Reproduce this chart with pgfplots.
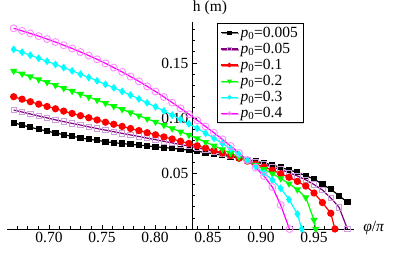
\documentclass[border=0pt]{standalone}
\usepackage{fontspec}
\setmainfont{Liberation Serif}
\usepackage{pgfplots}
\pgfplotsset{compat=1.18}
\usepackage{pgfplotstable}
\usetikzlibrary{shadows}

\pgfplotstableread{
x blk pur red grn cya mag
0.6667 0.0960 0.1075 0.1195 0.1427 0.1623 0.1813
0.6746 0.0939 0.1057 0.1173 0.1402 0.1597 0.1790
0.6824 0.0919 0.1039 0.1150 0.1377 0.1570 0.1767
0.6903 0.0901 0.1021 0.1128 0.1351 0.1543 0.1742
0.6982 0.0885 0.1004 0.1107 0.1325 0.1515 0.1716
0.7061 0.0867 0.0986 0.1086 0.1299 0.1487 0.1689
0.7139 0.0852 0.0970 0.1065 0.1272 0.1458 0.1660
0.7218 0.0837 0.0954 0.1044 0.1246 0.1429 0.1631
0.7297 0.0825 0.0939 0.1024 0.1219 0.1399 0.1599
0.7375 0.0810 0.0923 0.1005 0.1192 0.1369 0.1567
0.7454 0.0801 0.0908 0.0985 0.1164 0.1339 0.1533
0.7533 0.0789 0.0893 0.0965 0.1136 0.1307 0.1496
0.7611 0.0780 0.0879 0.0946 0.1109 0.1276 0.1458
0.7690 0.0772 0.0864 0.0927 0.1081 0.1243 0.1419
0.7769 0.0765 0.0850 0.0908 0.1052 0.1210 0.1377
0.7848 0.0758 0.0836 0.0889 0.1024 0.1175 0.1334
0.7926 0.0751 0.0821 0.0870 0.0995 0.1140 0.1289
0.8005 0.0743 0.0807 0.0851 0.0967 0.1104 0.1242
0.8084 0.0736 0.0792 0.0832 0.0938 0.1067 0.1193
0.8162 0.0729 0.0778 0.0813 0.0908 0.1029 0.1142
0.8241 0.0721 0.0763 0.0793 0.0879 0.0990 0.1090
0.8320 0.0712 0.0749 0.0773 0.0849 0.0950 0.1037
0.8398 0.0702 0.0734 0.0752 0.0818 0.0909 0.0982
0.8477 0.0691 0.0717 0.0731 0.0785 0.0865 0.0926
0.8556 0.0679 0.0700 0.0709 0.0752 0.0820 0.0869
0.8635 0.0667 0.0682 0.0687 0.0719 0.0773 0.0810
0.8713 0.0654 0.0664 0.0663 0.0685 0.0724 0.0750
0.8792 0.0640 0.0645 0.0639 0.0650 0.0674 0.0687
0.8871 0.0626 0.0625 0.0613 0.0614 0.0622 0.0623
0.8949 0.0612 0.0605 0.0587 0.0578 0.0566 0.0555
0.9028 0.0596 0.0584 0.0560 0.0540 0.0508 0.0479
0.9107 0.0578 0.0561 0.0531 0.0500 0.0443 0.0379
0.9185 0.0557 0.0537 0.0500 0.0457 0.0368 0.0217
0.9264 0.0533 0.0509 0.0467 0.0410 0.0266 nan
0.9268 nan nan nan nan nan 0
0.9343 0.0512 0.0479 0.0430 0.0356 0.0136 nan
0.9384 nan nan nan nan 0 nan
0.9422 0.0481 0.0444 0.0388 0.0285 nan nan
0.9500 0.0452 0.0402 0.0325 0.0081 nan nan
0.9516 nan nan nan 0 nan nan
0.9579 0.0404 0.0352 0.0239 nan nan nan
0.9658 0.0359 0.0280 0.0142 nan nan nan
0.9697 nan nan 0 nan nan nan
0.9736 0.0301 0.0196 nan nan nan nan
0.9815 0.0241 0 nan nan nan nan
}\datatable

\definecolor{mpurple}{rgb}{0.5,0,0.5}
\definecolor{lpurple}{rgb}{0.8,0.62,0.86}
\definecolor{lmag}{rgb}{1,0.55,1}
\definecolor{mgreen}{rgb}{0,1,0}
\definecolor{mcyan}{rgb}{0,1,1}
\definecolor{mmag}{rgb}{1,0,1}

\begin{document}
\begin{tikzpicture}
\useasboundingbox (0,0) rectangle (409pt,255pt);
\begin{axis}[
  at={(7pt,26pt)}, anchor=south west,
  scale only axis, width=347pt, height=207pt,
  xmin=0.6604, xmax=0.9877, ymin=0, ymax=0.187,
  axis x line=bottom, axis y line=left, axis y line shift=-185pt,
  axis line style={line width=0.9pt, -},
  clip=false,
  tick align=inside,
  major tick length=4.5pt, minor tick length=2.8pt,
  every tick/.style={black, line width=0.8pt},
  xtick={0.7,0.75,0.8,0.85,0.9,0.95},
  minor xtick={0.67,0.68,0.69,0.71,0.72,0.73,0.74,0.76,0.77,0.78,0.79,0.81,0.82,0.83,0.84,0.86,0.87,0.88,0.89,0.91,0.92,0.93,0.94,0.96,0.97,0.98},
  ytick={0.05,0.1,0.15},
  minor ytick={0.01,0.02,0.03,0.04,0.06,0.07,0.08,0.09,0.11,0.12,0.13,0.14,0.16,0.17,0.18},
  ticklabel style={font=\fontsize{15.5}{17}\selectfont},
  /pgf/number format/assume math mode=true,
  xticklabel style={/pgf/number format/.cd, fixed, fixed zerofill, precision=2},
  yticklabel style={/pgf/number format/.cd, fixed, fixed zerofill, precision=2},
  every axis y label/.style={at={(axis description cs:0.585,1.068)}, anchor=center, font=\fontsize{15.5}{17}\selectfont},
  ylabel={h (m)},
  every axis x label/.style={at={(axis description cs:1.057,0.005)}, anchor=center, font=\fontsize{15.5}{17}\selectfont},
  xlabel={\textit{φ}/\textit{π}},
  legend cell align=left,
  legend image post style={mark size=1.6pt},
  legend style={at={(axis description cs:0.605,0.995)}, anchor=north west,
    draw=black, line width=0.7pt, fill=white, font=\fontsize{15.5}{17}\selectfont,
    row sep=0.3pt, inner xsep=3pt, inner ysep=1.5pt,
    drop shadow={shadow xshift=1pt, shadow yshift=-1pt, fill=gray!60}},
]
\addplot[black, line width=1.2pt, mark=square*, mark size=2.5pt] table[x=x, y=blk] {\datatable};
\addlegendentry{\textit{p}\textsubscript{0}=0.005}
\addplot[mpurple, line width=1.2pt, mark=square, mark size=2.7pt, mark options={lpurple, line width=0.9pt}] table[x=x, y=pur] {\datatable};
\addlegendentry{\textit{p}\textsubscript{0}=0.05}
\addplot[red, line width=1.2pt, mark=*, mark size=3pt] table[x=x, y=red] {\datatable};
\addlegendentry{\textit{p}\textsubscript{0}=0.1}
\addplot[mgreen, line width=1.2pt, mark=triangle*, mark size=3pt, mark options={rotate=180}] table[x=x, y=grn] {\datatable};
\addlegendentry{\textit{p}\textsubscript{0}=0.2}
\addplot[mcyan, line width=1.2pt, mark=diamond*, mark size=3pt] table[x=x, y=cya] {\datatable};
\addlegendentry{\textit{p}\textsubscript{0}=0.3}
\addplot[mmag, line width=1.2pt, mark=o, mark size=3.5pt, mark options={lmag, line width=0.9pt}] table[x=x, y=mag] {\datatable};
\addlegendentry{\textit{p}\textsubscript{0}=0.4}
\end{axis}
\end{tikzpicture}
\end{document}
